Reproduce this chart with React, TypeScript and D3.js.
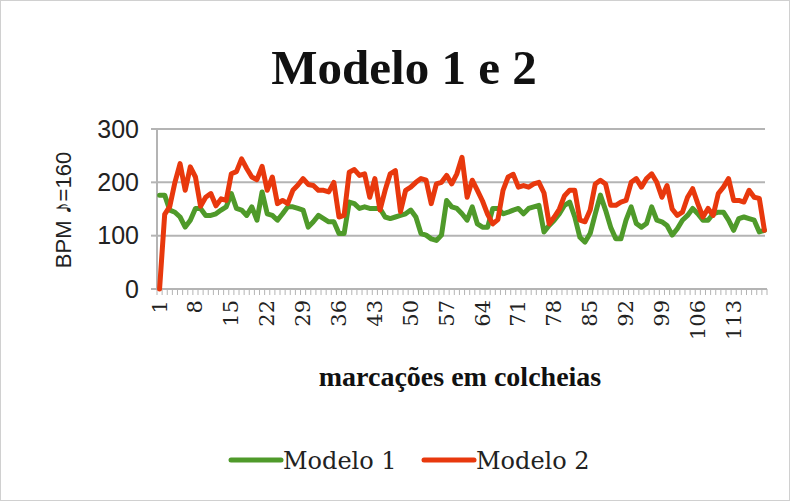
import React from 'react';
import * as d3 from 'd3';

// marcações (colcheias) 1..119
const categories = d3.range(1, 120).map(String);
const tickLabels = ['1', '8', '15', '22', '29', '36', '43', '50', '57', '64', '71', '78', '85', '92', '99', '106', '113'];
const yTicks = [0, 100, 200, 300];

const modelo1 = [
  176, 176, 148, 144, 135, 116, 129, 151, 151, 138,
  138, 141, 148, 154, 179, 151, 148, 138, 154, 129,
  182, 141, 138, 129, 141, 154, 154, 151, 148, 116,
  126, 138, 132, 126, 126, 104, 104, 163, 160, 151,
  154, 151, 151, 151, 135, 132, 135, 138, 141, 148,
  135, 104, 101, 94, 91, 101, 166, 154, 151, 141,
  129, 154, 122, 116, 116, 151, 151, 141, 144, 148,
  151, 141, 151, 154, 157, 107, 119, 129, 141, 157,
  163, 135, 97, 88, 104, 141, 176, 148, 116, 94,
  94, 129, 154, 123, 116, 123, 154, 129, 126, 119,
  101, 113, 129, 138, 151, 141, 129, 129, 141, 144,
  144, 129, 110, 132, 135, 132, 129, 107, 110,
];

const modelo2 = [
  0, 140, 155, 200, 235, 185, 229, 210, 155, 172,
  179, 156, 169, 166, 216, 220, 244, 226, 210, 205,
  230, 185, 210, 160, 166, 160, 185, 195, 207, 196,
  194, 185, 185, 182, 200, 135, 138, 219, 224, 213,
  216, 172, 207, 148, 185, 216, 222, 145, 185, 191,
  200, 207, 204, 160, 197, 200, 213, 197, 216, 247,
  172, 204, 185, 165, 140, 122, 130, 185, 210, 215,
  191, 194, 191, 197, 200, 180, 122, 135, 150, 175,
  185, 185, 129, 126, 148, 197, 204, 197, 157, 157,
  163, 166, 200, 207, 191, 207, 216, 200, 172, 194,
  150, 138, 144, 172, 188, 160, 135, 151, 138, 179,
  191, 207, 166, 166, 163, 185, 172, 170, 110,
];

const series = [
  { name: 'Modelo 1', values: modelo1, color: '#4f9a2a' },
  { name: 'Modelo 2', values: modelo2, color: '#e8380d' },
];

const W = 790;
const H = 501;
const plot = { left: 157, right: 767, top: 129, bottom: 289 };

export default function App() {
  const x = d3.scalePoint<string>().domain(categories).range([plot.left, plot.right]).padding(0.5);
  const y = d3.scaleLinear().domain([0, 300]).range([plot.bottom, plot.top]);
  const step = x.step();

  const line = d3.line<number>()
    .x((d, i) => x(categories[i]) as number)
    .y((d) => y(d));

  const serif = '"DejaVu Serif", serif';
  const sans = '"Liberation Sans", Arial, sans-serif';

  return (
    <svg width={W} height={H} style={{ position: 'absolute', left: 0, top: 0, background: '#fff' }}>
      <rect x={0.5} y={0.5} width={W - 1} height={H - 1} fill="#fff" stroke="#d0d0d0" />

      <text x={404} y={84} textAnchor="middle" fontFamily='"Liberation Serif", serif' fontWeight="bold" fontSize={49} fill="#111">
        Modelo 1 e 2
      </text>

      {/* gridlines */}
      {yTicks.filter((t) => t > 0).map((t) => (
        <line key={t} x1={plot.left} x2={plot.right - 2} y1={y(t)} y2={y(t)} stroke="#b4b4b4" strokeWidth={2} />
      ))}

      {/* y axis */}
      <line x1={plot.left} x2={plot.left} y1={plot.top} y2={plot.bottom} stroke="#b4b4b4" strokeWidth={2} />
      {yTicks.map((t) => (
        <g key={t}>
          <line x1={plot.left - 6} x2={plot.left} y1={y(t)} y2={y(t)} stroke="#b4b4b4" strokeWidth={2} />
          <text x={139} y={y(t)} dy="0.35em" textAnchor="end" fontFamily={sans} fontSize={25} fill="#222">
            {t}
          </text>
        </g>
      ))}
      <text transform="translate(71,210) rotate(-90)" textAnchor="middle" fontFamily={sans} fontSize={22} fill="#222">
        BPM <tspan fontSize={26}>♪</tspan>=160
      </text>

      {/* x axis */}
      <line x1={plot.left} x2={plot.right} y1={plot.bottom} y2={plot.bottom} stroke="#b4b4b4" strokeWidth={2} />
      {d3.range(categories.length + 1).map((i) => (
        <line key={i} x1={plot.left + i * step} x2={plot.left + i * step} y1={plot.bottom} y2={plot.bottom + 6} stroke="#b4b4b4" strokeWidth={1} />
      ))}
      {tickLabels.map((c) => (
        <text
          key={c}
          transform={`translate(${(x(c) as number) + 7},300) rotate(-90)`}
          textAnchor="end"
          fontFamily={serif}
          fontSize={21}
          fill="#222"
        >
          {c}
        </text>
      ))}
      <text x={460} y={386} textAnchor="middle" fontFamily='"Liberation Serif", serif' fontWeight="bold" fontSize={28} fill="#111">
        marcações em colcheias
      </text>

      {/* series */}
      {series.map((s) => (
        <path key={s.name} d={line(s.values) || ''} fill="none" stroke={s.color} strokeWidth={5} strokeLinejoin="round" strokeLinecap="round" />
      ))}

      {/* legend */}
      {series.map((s, i) => {
        const lx = 231 + i * 193;
        return (
          <g key={s.name}>
            <line x1={lx} x2={lx + 50} y1={460} y2={460} stroke={s.color} strokeWidth={5} strokeLinecap="round" />
            <text x={lx + 52} y={469} fontFamily={serif} fontSize={24} fill="#222">
              {s.name}
            </text>
          </g>
        );
      })}
    </svg>
  );
}
